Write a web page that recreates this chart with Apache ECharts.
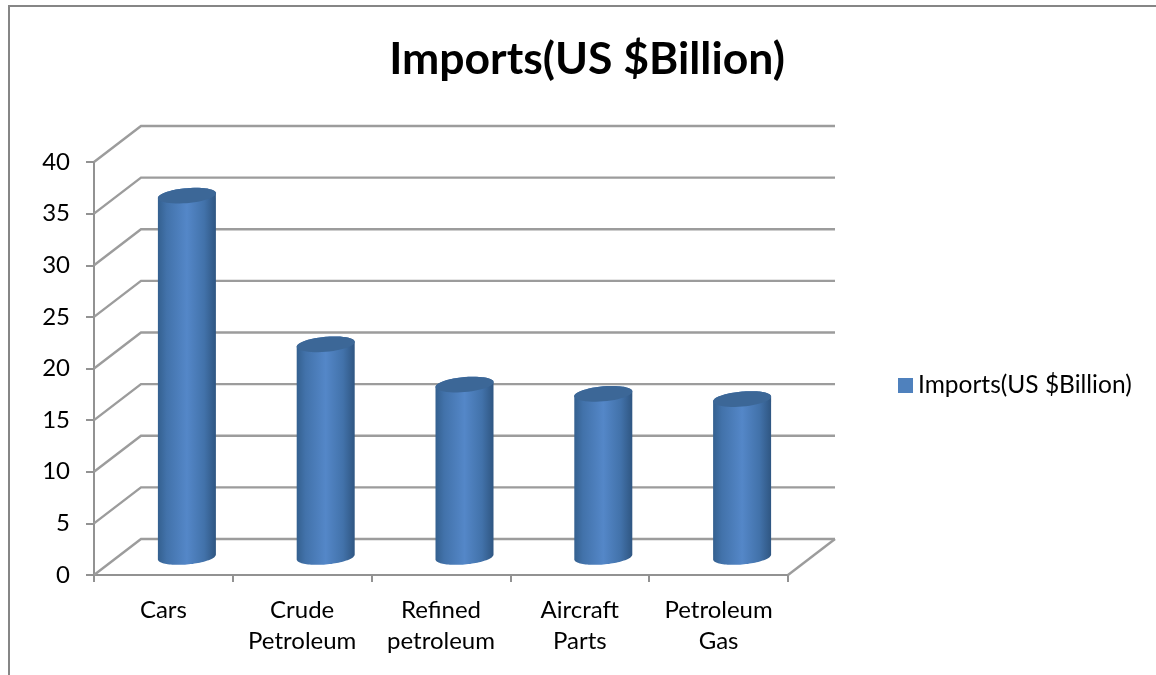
<!DOCTYPE html>
<html>
<head>
<meta charset="utf-8">
<style>html,body{margin:0;padding:0;background:#fff}#chart{width:1156px;height:675px}</style>
<script src="https://cdn.jsdelivr.net/npm/echarts@6/dist/echarts.min.js"></script>
</head>
<body>
<div id="chart"></div>
<script>
// Chart content
const chartTitle = 'Imports(US $Billion)';
const categories = ['Cars', 'Crude\nPetroleum', 'Refined\npetroleum', 'Aircraft\nParts', 'Petroleum\nGas'];
const imports = [35, 20.6, 16.7, 15.8, 15.3];
const yTicks = [0, 5, 10, 15, 20, 25, 30, 35, 40];

// Oblique projection of the 3D box and the cylinders standing inside it
const DEPTH_X = 47;
const DEPTH_Y = -36;
const RADIUS_X = 29;
const RADIUS_Y = 7.5;
const TILT = 2.4;
const FONT = 'Lato';

function ellipseArc(cx, cy, from, to) {
  const pts = [];
  const steps = 48;
  for (let k = 0; k <= steps; k++) {
    const t = from + (to - from) * k / steps;
    pts.push([
      cx + RADIUS_X * Math.cos(t),
      cy + RADIUS_Y * Math.sin(t) - TILT * Math.cos(t)
    ]);
  }
  return pts;
}

function renderWall(params, api) {
  const cs = params.coordSys;
  const y = api.coord([0, api.value(0)])[1];
  const isFloor = api.value(0) === 0;
  const left = cs.x, right = cs.x + cs.width;
  const style = { stroke: '#9c9c9c', lineWidth: 2.4, fill: null };
  const children = [{
    type: 'polyline',
    shape: { points: [[left, y], [left + DEPTH_X, y + DEPTH_Y], [right + DEPTH_X, y + DEPTH_Y]] },
    style
  }];
  if (isFloor) {
    children.push({
      type: 'line',
      shape: { x1: right, y1: y, x2: right + DEPTH_X, y2: y + DEPTH_Y },
      style
    });
  }
  return { type: 'group', children };
}

function renderCylinder(params, api) {
  const i = api.value(0);
  const base = api.coord([i, 0]);
  const top = api.coord([i, api.value(1)]);
  const cx = base[0] + DEPTH_X / 2;
  const yBase = base[1] + DEPTH_Y / 2;
  const yTop = top[1] + DEPTH_Y / 2;
  const outline = ellipseArc(cx, yTop, Math.PI, 2 * Math.PI)
    .concat(ellipseArc(cx, yBase, 0, Math.PI));
  const shade = new echarts.graphic.LinearGradient(0, 0, 1, 0, [
    { offset: 0, color: '#34608f' },
    { offset: 0.15, color: '#4272aa' },
    { offset: 0.5, color: '#5487c8' },
    { offset: 0.8, color: '#4272aa' },
    { offset: 1, color: '#2f5682' }
  ]);
  return {
    type: 'group',
    children: [
      { type: 'polygon', shape: { points: outline }, style: { fill: shade } },
      {
        type: 'polygon',
        shape: { points: ellipseArc(cx, yTop, 0, 2 * Math.PI) },
        style: { fill: '#3c6797' }
      }
    ]
  };
}

const chart = echarts.init(document.getElementById('chart'), null, { renderer: 'canvas' });
chart.setOption({
  animation: false,
  backgroundColor: '#ffffff',
  textStyle: { fontFamily: FONT },
  title: {
    text: chartTitle,
    left: 582,
    top: 32,
    textAlign: 'center',
    textStyle: { fontFamily: FONT, fontWeight: 'bold', fontSize: 44.5, color: '#000' }
  },
  legend: {
    data: [chartTitle],
    left: 893,
    top: 368,
    icon: 'rect',
    itemWidth: 15,
    itemHeight: 15,
    itemGap: 0,
    textStyle: { fontFamily: FONT, fontSize: 24.5, color: '#000' }
  },
  grid: { left: 94, top: 162, width: 694, height: 413, containLabel: false },
  xAxis: {
    type: 'category',
    data: categories,
    axisLine: { lineStyle: { color: '#929292', width: 2 } },
    axisTick: { show: true, length: 7, alignWithLabel: false, lineStyle: { color: '#929292', width: 2 } },
    axisLabel: { interval: 0, margin: 20, fontFamily: FONT, fontSize: 24, lineHeight: 31, color: '#000' }
  },
  yAxis: {
    type: 'value',
    min: 0,
    max: 40,
    interval: 5,
    splitLine: { show: false },
    axisLine: { show: true, lineStyle: { color: '#929292', width: 2 } },
    axisTick: { show: true, length: 8, lineStyle: { color: '#929292', width: 2 } },
    axisLabel: { margin: 24, fontFamily: FONT, fontSize: 24, color: '#000' }
  },
  series: [
    {
      name: 'walls',
      type: 'custom',
      silent: true,
      z: 1,
      coordinateSystem: 'cartesian2d',
      renderItem: renderWall,
      encode: { y: 0 },
      data: yTicks.map(v => [v])
    },
    {
      name: chartTitle,
      type: 'custom',
      z: 3,
      coordinateSystem: 'cartesian2d',
      renderItem: renderCylinder,
      encode: { x: 0, y: 1 },
      itemStyle: { color: '#4f81bd' },
      data: imports.map((v, i) => [i, v])
    }
  ],
  graphic: [
    {
      type: 'polyline',
      silent: true,
      shape: { points: [[9, 680], [9, 6], [1160, 6]] },
      style: { stroke: '#868686', lineWidth: 2, fill: null }
    }
  ]
});
</script>
</body>
</html>
